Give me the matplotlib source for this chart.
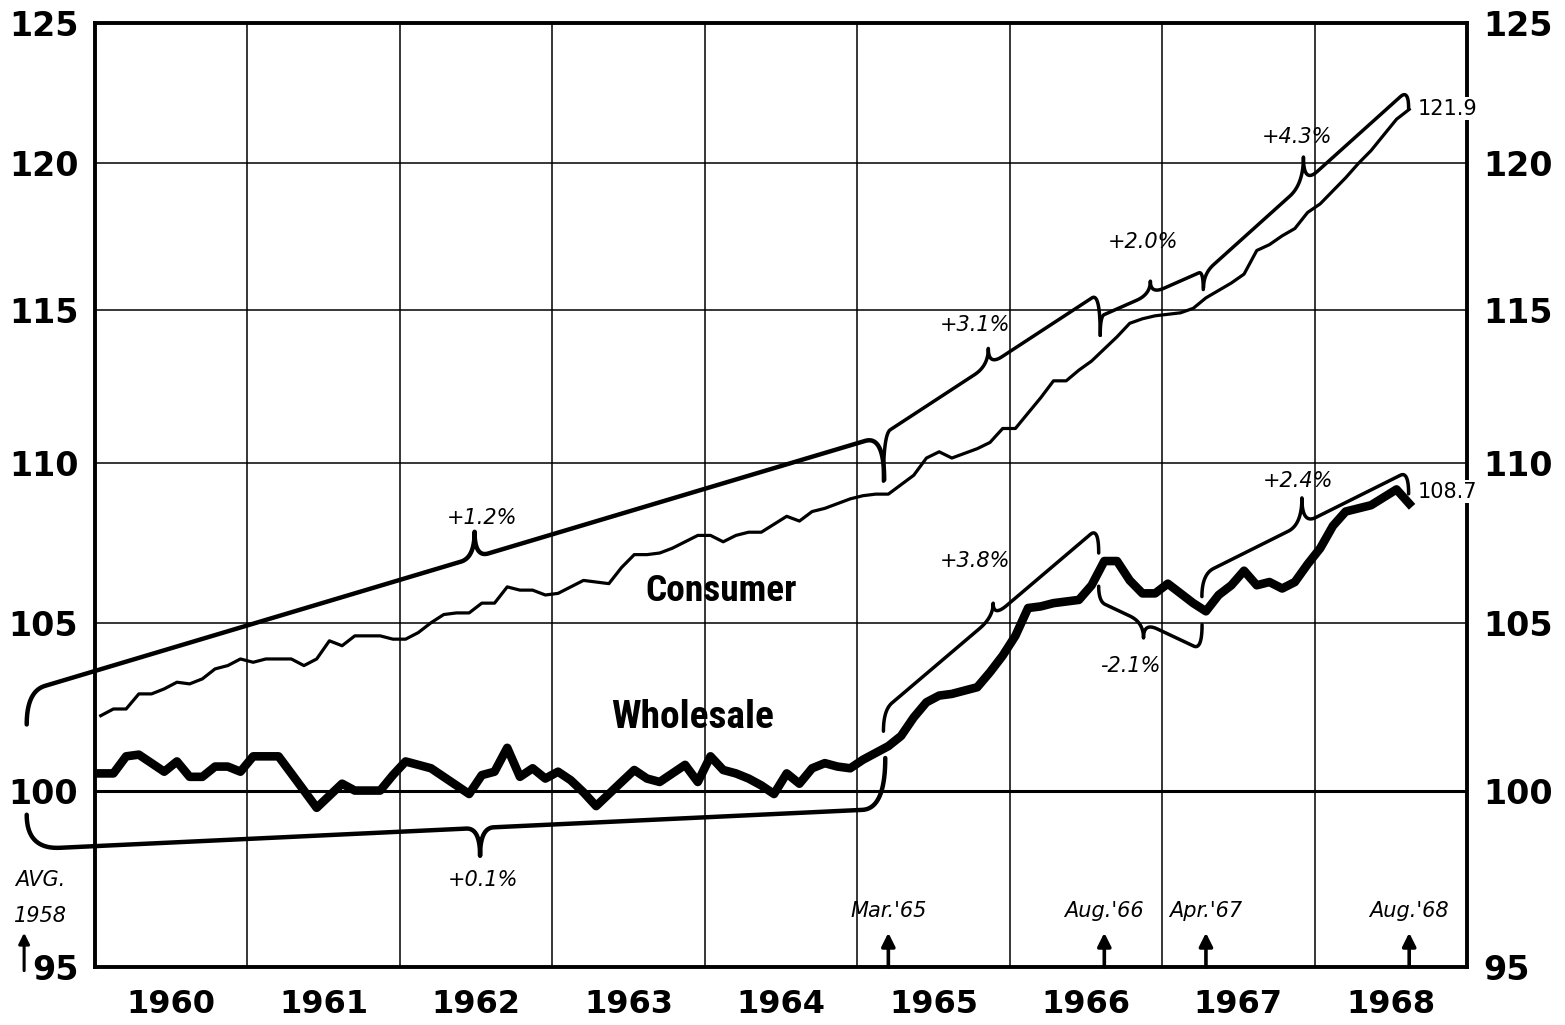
import numpy as np
import pandas as pd
import matplotlib
matplotlib.use("Agg")
import matplotlib.pyplot as plt
from matplotlib import font_manager as fm
from matplotlib.ticker import NullLocator

# Monthly index values, Jan 1960 .. Aug 1968 (1957-59 = 100).
months = pd.date_range("1960-01-01", "1968-08-01", freq="MS")

consumer = [
    102.2, 102.4, 102.4, 102.85, 102.85, 103.0, 103.2, 103.15, 103.3, 103.6, 103.7, 103.9,
    103.8, 103.9, 103.9, 103.9, 103.7, 103.9, 104.45, 104.3, 104.6, 104.6, 104.6, 104.5,
    104.5, 104.7, 105.0, 105.25, 105.3, 105.3, 105.6, 105.6, 106.1, 106.0, 106.0, 105.85,
    105.9, 106.1, 106.3, 106.25, 106.2, 106.7, 107.1, 107.1, 107.15, 107.3, 107.5, 107.7,
    107.7, 107.5, 107.7, 107.8, 107.8, 108.05, 108.3, 108.15, 108.45, 108.55, 108.7, 108.85,
    108.95, 109.0, 109.0, 109.3, 109.6, 110.15, 110.35, 110.15, 110.3, 110.45, 110.65, 111.1,
    111.1, 111.6, 112.1, 112.65, 112.65, 113.0, 113.3, 113.7, 114.1, 114.55, 114.7, 114.8,
    114.85, 114.9, 115.05, 115.4, 115.65, 115.9, 116.2, 117.0, 117.2, 117.5, 117.75, 118.3,
    118.6, 119.05, 119.5, 120.0, 120.45, 121.0, 121.55, 121.9,
]

wholesale = [
    100.5, 100.5, 101.0, 101.05, 100.8, 100.55, 100.85, 100.4, 100.4, 100.7, 100.7, 100.55,
    101.0, 101.0, 101.0, 100.5, 100.0, 99.5, 99.85, 100.2, 100.0, 100.0, 100.0, 100.45,
    100.85, 100.75, 100.65, 100.4, 100.15, 99.9, 100.45, 100.55, 101.25, 100.4, 100.65, 100.35,
    100.55, 100.3, 99.95, 99.55, 99.9, 100.25, 100.6, 100.35, 100.25, 100.5, 100.75, 100.25,
    101.0, 100.6, 100.5, 100.35, 100.15, 99.9, 100.5, 100.2, 100.65, 100.8, 100.7, 100.65,
    100.9, 101.1, 101.3, 101.6, 102.15, 102.6, 102.8, 102.85, 102.95, 103.05, 103.5, 104.0,
    104.6, 105.45, 105.5, 105.6, 105.65, 105.7, 106.15, 106.9, 106.9, 106.3, 105.9, 105.9,
    106.2, 105.9, 105.6, 105.35, 105.85, 106.15, 106.6, 106.15, 106.25, 106.05, 106.25, 106.8,
    107.3, 108.0, 108.45, 108.55, 108.65, 108.9, 109.15, 108.7,
]

years = list(range(1960, 1969))
y_ticks = [95, 100, 105, 110, 115, 120, 125]

# Dates marked along the bottom
marker_labels = ["Mar.'65", "Aug.'66", "Apr.'67", "Aug.'68"]
marker_months = ["1965-03-01", "1966-08-01", "1967-04-01", "1968-08-01"]

# Rate-of-change braces (tips sit near the series, the line runs parallel to it)
brace_labels = ["+1.2%", "+0.1%", "+3.1%", "+2.0%", "+4.3%", "+3.8%", "-2.1%", "+2.4%"]
brace_tip0_t = [1959.552, 1959.552, 1965.172, 1966.594, 1967.272, 1965.172, 1966.584, 1967.261]
brace_corner0_t = [1959.672, 1959.77, 1965.217, 1966.62, 1967.338, 1965.228, 1966.627, 1967.338]
brace_corner1_t = [1965.052, 1965.033, 1966.54, 1967.24, 1968.563, 1966.529, 1967.207, 1968.563]
brace_tip1_t = [1965.177, 1965.184, 1966.594, 1967.27, 1968.617, 1966.584, 1967.262, 1968.617]
brace_tip0_v = [101.94, 99.30, 109.41, 114.15, 115.74, 101.74, 106.12, 105.80]
brace_line0_v = [103.09, 98.35, 111.06, 114.84, 116.52, 102.58, 105.56, 106.67]
brace_line1_v = [110.70, 99.44, 115.40, 116.24, 122.35, 107.73, 104.29, 109.60]
brace_tip1_v = [109.45, 100.95, 114.15, 115.68, 121.93, 107.15, 104.94, 109.01]
spike_t = [1962.49, 1962.526, 1965.86, 1966.923, 1967.927, 1965.892, 1966.878, 1967.917]
spike_h = [0.0075, 0.0081, 0.005, 0.0038, 0.0078, 0.004, 0.0045, 0.0077]
brace_label_t = [1962.54, 1962.546, 1965.774, 1966.877, 1967.887, 1965.774, 1966.79, 1967.894]
brace_label_v = [108.25, 97.44, 114.5, 117.3, 120.93, 106.91, 103.69, 109.42]
brace_lw = [3.2, 3.2, 2.5, 2.5, 2.5, 2.5, 2.5, 2.5]

end_labels = ["121.9", "108.7"]

x = months.year + (months.month - 0.55) / 12.0


def bezier(p0, p1, p2, n=20):
    s = np.linspace(0, 1, n)[:, None]
    return (1 - s) ** 2 * np.array(p0) + 2 * (1 - s) * s * np.array(p1) + s ** 2 * np.array(p2)


def brace(i):
    # built in (time, log value) space, which maps linearly onto the log axes
    a0, a1 = brace_corner0_t[i], brace_corner1_t[i]
    l0, l1 = np.log(brace_line0_v[i]), np.log(brace_line1_v[i])
    line = lambda t: l0 + (l1 - l0) * (t - a0) / (a1 - a0)
    sign = 1 if brace_line0_v[i] > brace_tip0_v[i] else -1
    t0, t1, ts = brace_tip0_t[i], brace_tip1_t[i], spike_t[i]
    w = 0.09
    parts = [
        bezier((t0, np.log(brace_tip0_v[i])), (t0, line(t0)), (a0, l0)),
        bezier((ts - w, line(ts - w)), (ts, line(ts)), (ts, line(ts) + sign * spike_h[i])),
        bezier((ts, line(ts) + sign * spike_h[i]), (ts, line(ts)), (ts + w, line(ts + w))),
        bezier((a1, l1), (t1, line(t1)), (t1, np.log(brace_tip1_v[i]))),
    ]
    pts = np.vstack(parts)
    return pts[:, 0], np.exp(pts[:, 1])


fig = plt.figure(figsize=(15.65, 10.25), dpi=100)
ax = fig.add_axes([95 / 1565, 1 - 967 / 1025, (1467 - 95) / 1565, (967 - 23) / 1025])
ax.set_yscale("log")
ax.set_ylim(95, 125)
ax.set_xlim(1960, 1969)

ax.yaxis.set_minor_locator(NullLocator())
ax.set_yticks(y_ticks)
ax.set_yticklabels([str(v) for v in y_ticks], fontsize=24, fontweight="bold")
ax.tick_params(axis="y", which="both", length=0, pad=12, labelleft=True, labelright=True)

ax.set_xticks(years[1:])
ax.set_xticklabels([])
ax.set_xticks([y + 0.5 for y in years], minor=True)
ax.set_xticklabels([str(y) for y in years], minor=True, fontsize=23, fontweight="bold")
ax.tick_params(axis="x", which="both", length=0, pad=16)

ax.grid(True, which="major", color="black", lw=1.1)
ax.axhline(100, color="black", lw=2.2, zorder=1)
for s in ax.spines.values():
    s.set_linewidth(2.8)

ax.plot(x, consumer, color="black", lw=2.3, zorder=3)
ax.plot(x, wholesale, color="black", lw=6.2, zorder=3)

for i in range(len(brace_labels)):
    bx, by = brace(i)
    ax.plot(bx, by, color="black", lw=brace_lw[i], clip_on=False, zorder=3,
            solid_capstyle="round")
    ax.text(brace_label_t[i], brace_label_v[i], brace_labels[i], fontsize=15,
            style="italic", ha="center", va="center", zorder=4)

# series end values
ax.text(1968.675, brace_tip1_v[4], end_labels[0], fontsize=15, ha="left", va="center",
        clip_on=False, zorder=5, bbox=dict(facecolor="white", edgecolor="none", pad=1))
ax.text(1968.675, wholesale[-1] * 1.0035, end_labels[1], fontsize=15, ha="left", va="center",
        clip_on=False, zorder=5, bbox=dict(facecolor="white", edgecolor="none", pad=1))

# dates marked at the bottom
for lbl, m in zip(marker_labels, marker_months):
    i = months.get_loc(pd.Timestamp(m))
    ax.annotate("", xy=(x[i], 95.95), xytext=(x[i], 95),
                arrowprops=dict(arrowstyle="-|>", lw=2.6, color="black", mutation_scale=20,
                                shrinkA=0, shrinkB=0), zorder=4)
    ax.text(x[i], 96.55, lbl, fontsize=15, style="italic", ha="center", va="center")

# 1958 base marker
ax.annotate("", xy=(1959.535, 95.95), xytext=(1959.535, 94.9), annotation_clip=False,
            arrowprops=dict(arrowstyle="-|>", lw=2.2, color="black", mutation_scale=16,
                            shrinkA=0, shrinkB=0))
ax.text(1959.64, 97.43, "AVG.", fontsize=15, style="italic", ha="center", va="center", clip_on=False)
ax.text(1959.64, 96.42, "1958", fontsize=15, style="italic", ha="center", va="center", clip_on=False)

# series names, condensed bold
names = {(f.name, f.stretch) for f in fm.fontManager.ttflist}
fam, stretch = "DejaVu Sans", "normal"
for cand in ["Liberation Sans Narrow", "Roboto Condensed", "Open Sans Condensed"]:
    if any(n == cand for n, _ in names):
        fam = cand
        break
else:
    if ("DejaVu Sans", "condensed") in names or ("DejaVu Sans", "semi-condensed") in names:
        stretch = "condensed"

t_cons = ax.text(1964.108, 105.98, "Consumer", fontsize=30, fontweight="bold", family=fam,
                 fontstretch=stretch, ha="center", va="center", zorder=4)
t_whol = ax.text(1963.917, 102.14, "Wholesale", fontsize=30, fontweight="bold", family=fam,
                 fontstretch=stretch, ha="center", va="center", zorder=4)
fig.canvas.draw()
r = fig.canvas.get_renderer()
for t, width in [(t_cons, 152), (t_whol, 163)]:
    bw = t.get_window_extent(r).width
    t.set_fontsize(30 * width / bw)

fig.savefig("out.png", dpi=100, facecolor="white")
